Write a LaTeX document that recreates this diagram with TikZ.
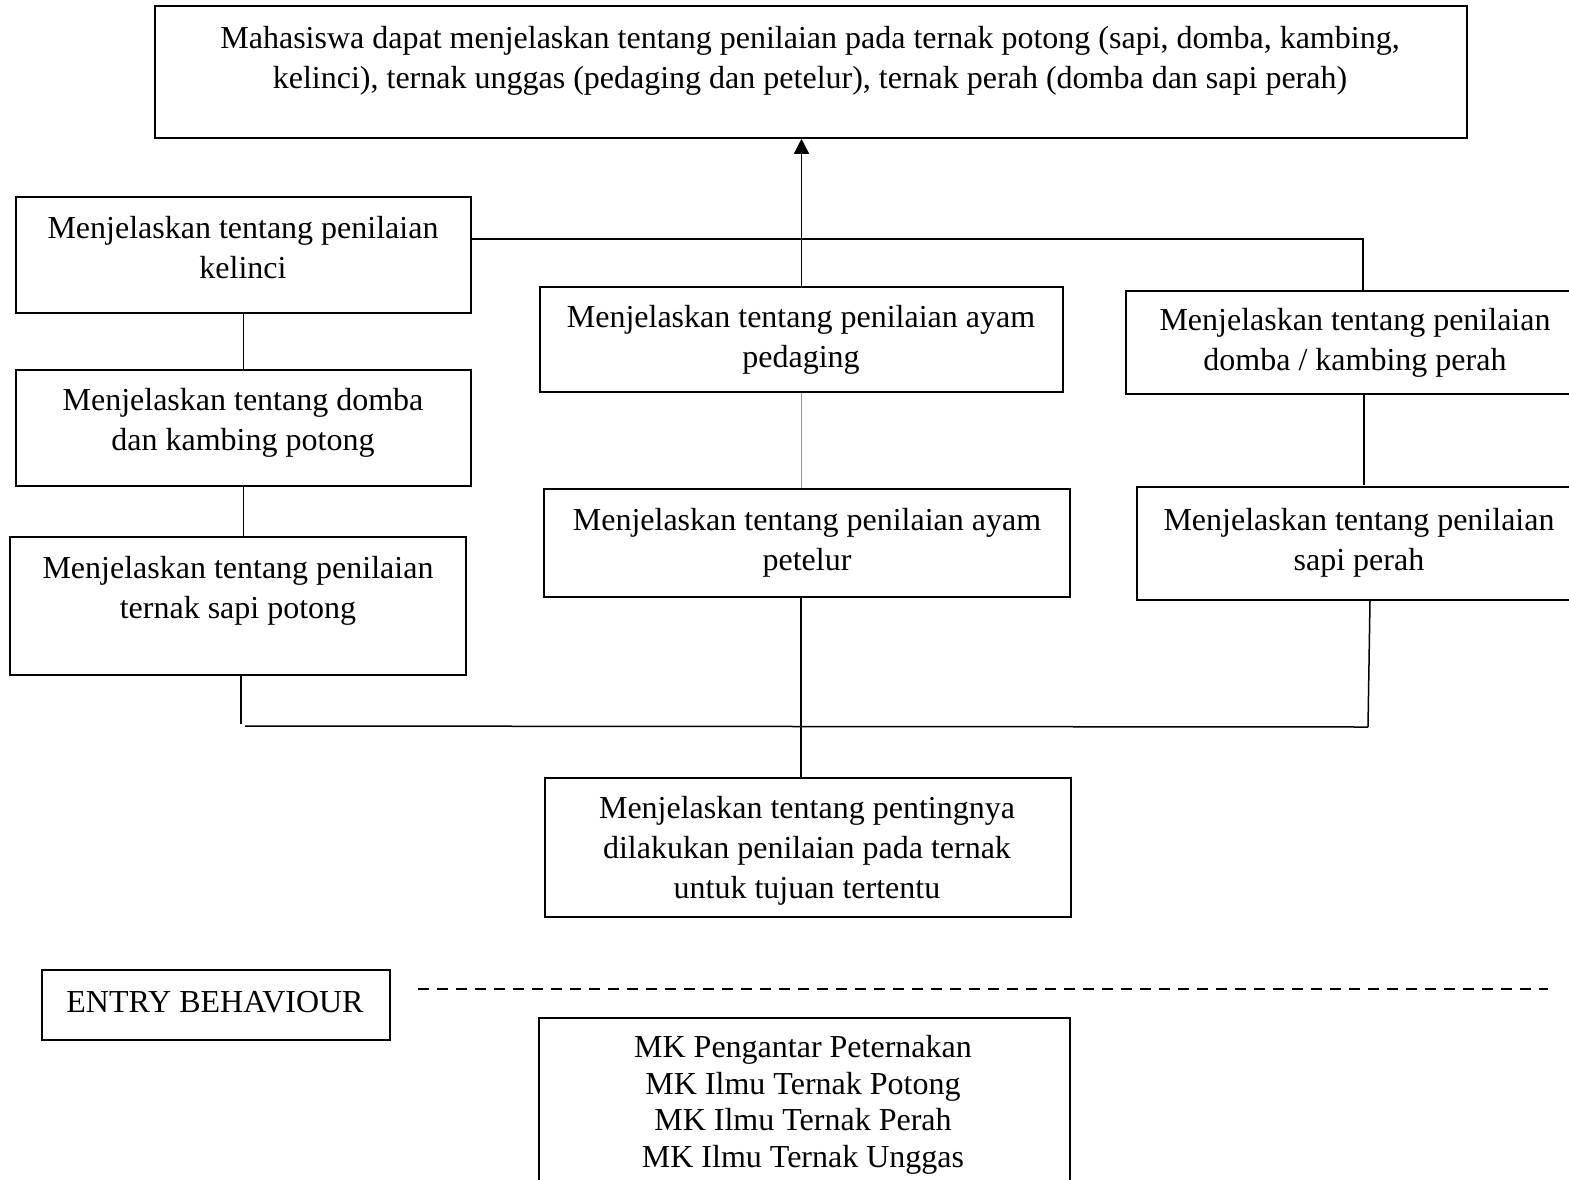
\documentclass[tikz,border=0pt]{standalone}
\usepackage{fontspec}
\setmainfont{Liberation Serif}
\usetikzlibrary{arrows.meta,positioning}
\definecolor{garisBiru}{RGB}{114,148,207}
\tikzset{
    kotak/.style={draw, line width=0.8pt, inner sep=0pt},
    teks/.style={align=center, inner sep=0pt, font=\fontsize{16}{20}\selectfont},
    garis/.style={line width=0.75pt},
    garisPutus/.style={line width=1.4pt, dash pattern=on 5.5pt off 4pt}
}

\begin{document}
\begin{tikzpicture}[x=0.5pt, y=-0.5pt]
        \useasboundingbox (0,0) rectangle (1569,1179);

        % Tujuan akhir
        \node[kotak, minimum width=656pt, minimum height=66pt] (tujuan) at (811,72) {};
        \node[teks] (tujuanT) at (810,61) {Mahasiswa dapat menjelaskan tentang penilaian pada ternak potong (sapi, domba, kambing,\\kelinci), ternak unggas (pedaging dan petelur), ternak perah (domba dan sapi perah)};

        % Kolom kiri (ternak potong)
        \node[kotak, minimum width=227.5pt, minimum height=58pt] (kelinci) at (243.5,255) {};
        \node[teks] (kelinciT) at (243,248) {Menjelaskan tentang penilaian\\kelinci};
        \node[kotak, minimum width=227.5pt, minimum height=58pt] (dombaPotong) at (243.5,428) {};
        \node[teks] (dombaPotongT) at (243,423) {Menjelaskan tentang domba\\dan kambing potong};
        \node[kotak, minimum width=228pt, minimum height=69pt] (sapiPotong) at (238,606) {};
        \node[teks] (sapiPotongT) at (238,591) {Menjelaskan tentang penilaian\\ternak sapi potong};

        % Kolom tengah (ternak unggas)
        \node[kotak, minimum width=261.5pt, minimum height=52.5pt] (ayamPedaging) at (801.5,339.5) {};
        \node[teks] (ayamPedagingT) at (801,340) {Menjelaskan tentang penilaian ayam\\pedaging};
        \node[kotak, minimum width=263pt, minimum height=54pt] (ayamPetelur) at (807,543) {};
        \node[teks] (ayamPetelurT) at (807,543) {Menjelaskan tentang penilaian ayam\\petelur};

        % Kolom kanan (ternak perah)
        \node[kotak, minimum width=229pt, minimum height=51.5pt] (dombaPerah) at (1355,342.5) {};
        \node[teks] (dombaPerahT) at (1355,343) {Menjelaskan tentang penilaian\\domba / kambing perah};
        \node[kotak, minimum width=222pt, minimum height=56.5pt] (sapiPerah) at (1359,543.5) {};
        \node[teks] (sapiPerahT) at (1359,543) {Menjelaskan tentang penilaian\\sapi perah};

        % Dasar
        \node[kotak, minimum width=263pt, minimum height=69.5pt] (pentingnya) at (808,847.5) {};
        \node[teks] (pentingnyaT) at (807,851) {Menjelaskan tentang pentingnya\\dilakukan penilaian pada ternak\\untuk tujuan tertentu};

        % Entry behaviour
        \node[kotak, minimum width=174pt, minimum height=35pt] (entry) at (216,1005) {};
        \node[teks] (entryT) at (215,1002) {ENTRY BEHAVIOUR};
        \node[kotak, minimum width=265.5pt, minimum height=91pt] (mk) at (804.5,1109) {};
        \node[teks, font=\fontsize{16}{18.3}\selectfont] (mkT) at (803,1105) {MK Pengantar Peternakan\\MK Ilmu Ternak Potong\\MK Ilmu Ternak Perah\\MK Ilmu Ternak Unggas};

        % Titik bantu
        \coordinate (hubAtas) at (1363,239);
        \coordinate (hubKiri) at (241,724);
        \coordinate (hubBawahKiri) at (245,726);
        \coordinate (hubBawahKanan) at (1368,727);
        \coordinate (putusAwal) at (418,989);
        \coordinate (putusAkhir) at (1548,989);

        % Garis penghubung
        \draw[garis, -{Triangle[width=7.5pt,length=7.5pt]}] (ayamPedaging.north) -- (ayamPedaging.north |- tujuan.south);
        \draw[garis] (kelinci.east |- hubAtas) -- (hubAtas) -- (hubAtas |- dombaPerah.north);
        \draw[garis] (kelinci) -- (dombaPotong);
        \draw[garis] (dombaPotong.south) -- (dombaPotong.south |- sapiPotong.north);
        \draw[garis] (hubKiri |- sapiPotong.south) -- (hubKiri);
        \draw[garis] (hubBawahKiri) -- (hubBawahKanan);
        \draw[garis, garisBiru] (ayamPedaging) -- (ayamPedaging |- ayamPetelur.north);
        \draw[garis] ([xshift=-3pt]ayamPetelur.south) -- ([xshift=-3pt]ayamPetelur.south |- pentingnya.north);
        \draw[garis] ([xshift=4.5pt]dombaPerah.south) -- ([xshift=4.5pt,yshift=0.5pt]dombaPerah.south |- sapiPerah.north);
        \draw[garis] ([xshift=5.5pt]sapiPerah.south) -- (hubBawahKanan);
        \draw[garisPutus] (putusAwal) -- (putusAkhir);
    \end{tikzpicture}
\end{document}
